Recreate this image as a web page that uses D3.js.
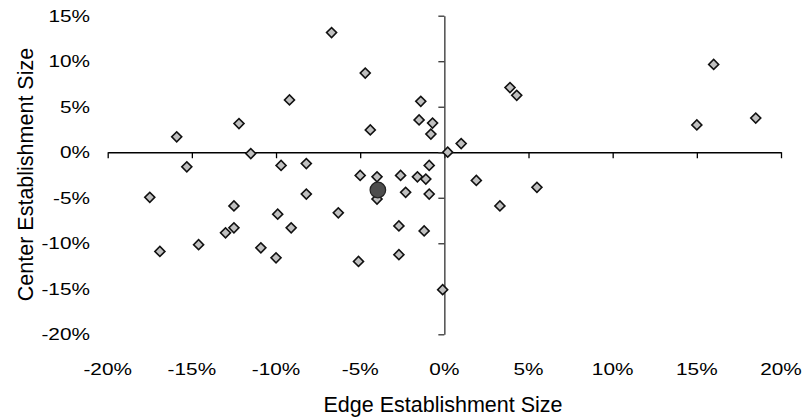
<!DOCTYPE html>
<html>
<head>
<meta charset="utf-8">
<script src="https://cdn.jsdelivr.net/npm/d3@7"></script>
<style>
  body { margin: 0; background: #fff; }
  text { font-family: "Liberation Sans", Arial, sans-serif; fill: #000; }
</style>
</head>
<body>
<script>
// Data (percent)
const edgeSize = [
  -6.7, -9.2, -12.2, -15.9, -11.5, -15.3, -9.7, -8.2, -8.2, -17.5,
  -4.7, -1.4, -4.4, -1.5, -0.7, -0.8, 0.2, 1.0, 3.9, 4.3,
  -0.9, -5.0, -4.0, -2.6, -1.6, -1.1, 1.9, 5.5, -2.3, -0.9,
  -4.0, -6.3, -2.7, -1.2, -5.1, -2.7, -0.1, 3.3, 16.0, 15.0,
  18.5, -12.5, -9.9, -13.0, -12.5, -9.1, -16.9, -14.6, -10.9, -10.0
];
const centerSize = [
  13.15, 5.75, 3.15, 1.7, -0.15, -1.6, -1.45, -1.25, -4.6, -4.95,
  8.7, 5.6, 2.45, 3.55, 3.2, 2.0, 0.0, 0.95, 7.1, 6.25,
  -1.45, -2.55, -2.7, -2.55, -2.7, -2.95, -3.1, -3.85, -4.4, -4.6,
  -5.15, -6.65, -8.1, -8.65, -12.0, -11.25, -15.1, -5.9, 9.65, 3.0,
  3.75, -5.9, -6.8, -8.85, -8.3, -8.3, -10.9, -10.15, -10.5, -11.6
];
// Highlighted point
const avgEdge = [-3.95];
const avgCenter = [-4.15];

const xTicks = [-20, -15, -10, -5, 0, 5, 10, 15, 20];
const yTicks = [-20, -15, -10, -5, 0, 5, 10, 15];

const width = 805, height = 419;

const svg = d3.select("body")
  .append("svg")
    .attr("width", width)
    .attr("height", height);

// Scales
const x = d3.scaleLinear().domain([-20, 20]).range([107.7, 781]);
const y = d3.scaleLinear().domain([-20, 15]).range([334.3, 15.7]);

// Axes crossing at origin
svg.append("g")
  .attr("transform", `translate(0,${y(0)})`)
  .call(d3.axisBottom(x).tickValues(xTicks).tickSize(6).tickSizeOuter(0).tickFormat(""))
  .call(g => g.selectAll("path,line").attr("stroke", "#000").attr("stroke-width", 1.3));

svg.append("g")
  .attr("transform", `translate(${x(0)},0)`)
  .call(d3.axisLeft(y).tickValues(yTicks).tickSize(6).tickSizeOuter(0).tickFormat(""))
  .call(g => g.selectAll("path,line").attr("stroke", "#333").attr("stroke-width", 1.3));

// Tick labels (outside the plot, at the edges)
const fmt = d => d + "%";
svg.append("g").selectAll("text")
  .data(xTicks)
  .join("text")
    .attr("transform", d => `translate(${x(d)},375) scale(1.3,1)`)
    .attr("text-anchor", "middle")
    .attr("font-size", 16)
    .text(fmt);

svg.append("g").selectAll("text")
  .data(yTicks)
  .join("text")
    .attr("transform", d => `translate(90,${y(d) + 5.9}) scale(1.3,1)`)
    .attr("text-anchor", "end")
    .attr("font-size", 16)
    .text(fmt);

// Axis titles
svg.append("text")
  .attr("x", 443)
  .attr("y", 411.5)
  .attr("text-anchor", "middle")
  .attr("font-size", 21.5)
  .text("Edge Establishment Size");

svg.append("text")
  .attr("transform", "translate(33.3,174.5) rotate(-90)")
  .attr("text-anchor", "middle")
  .attr("font-size", 21.5)
  .text("Center Establishment Size");

// Diamonds
const diamond = d3.symbol().type(d3.symbolSquare).size(50);
svg.append("g").selectAll("path")
  .data(edgeSize.map((d, i) => [d, centerSize[i]]))
  .join("path")
    .attr("d", diamond)
    .attr("transform", d => `translate(${x(d[0])},${y(d[1])}) rotate(45)`)
    .attr("fill", "#c0c0c0")
    .attr("stroke", "#111")
    .attr("stroke-width", 1.6);

// Highlighted circle
svg.append("g").selectAll("circle")
  .data(avgEdge.map((d, i) => [d, avgCenter[i]]))
  .join("circle")
    .attr("cx", d => x(d[0]))
    .attr("cy", d => y(d[1]))
    .attr("r", 7.8)
    .attr("fill", "#4d4d4d")
    .attr("stroke", "#222")
    .attr("stroke-width", 1.2);
</script>
</body>
</html>
